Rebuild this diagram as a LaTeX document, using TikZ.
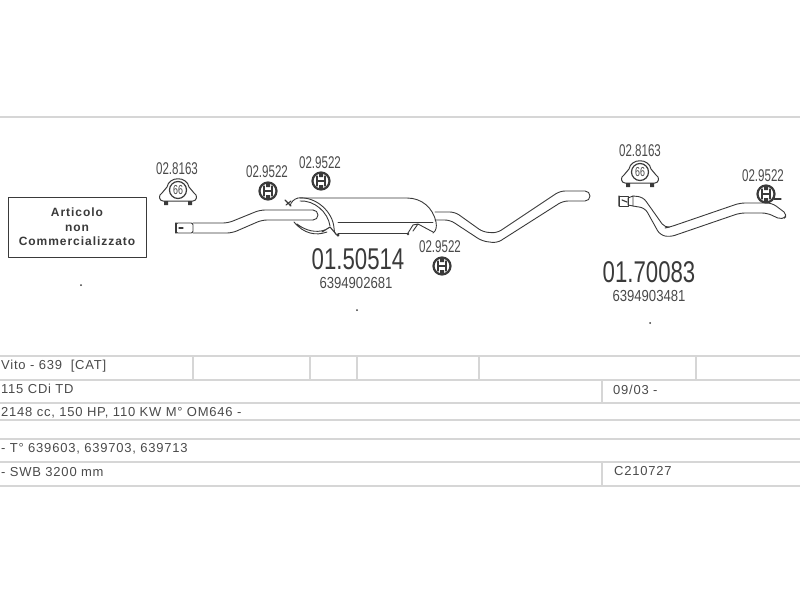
\documentclass[tikz,border=0pt]{standalone}
\usepackage{fontspec}
\setmainfont{Liberation Sans}
\newfontfamily\rowfont[LetterSpace=6]{Liberation Sans}
\newfontfamily\clampfont[FakeStretch=0.68]{Liberation Sans}
\newfontfamily\partfont[FakeStretch=0.74]{Liberation Sans}
\newfontfamily\oemfont[FakeStretch=0.82]{Liberation Sans}
\newfontfamily\boxfont[LetterSpace=8]{Liberation Sans Bold}
\definecolor{pipeline}{HTML}{3A3A3A}
\definecolor{rulegray}{HTML}{D6D6D6}
\definecolor{labelgray}{HTML}{4A4A4A}
\tikzset{
	pipe/.style={pipeline, line width=0.9pt, rounded corners=5pt},
	tablerule/.style={rulegray, line width=1.6pt},
	rowtext/.style={anchor=west, inner sep=0pt, text=labelgray, font=\rowfont\fontsize{13}{15}\selectfont},
	clampno/.style={inner sep=0pt, text=labelgray, font=\clampfont\fontsize{17}{17}\selectfont},
	partno/.style={inner sep=0pt, text=pipeline, font=\partfont\fontsize{30}{30}\selectfont},
	oemno/.style={inner sep=0pt, text=labelgray, font=\oemfont\fontsize{16}{16}\selectfont},
	speck/.style={circle, fill=pipeline, inner sep=0pt, minimum size=2pt},
	clampbig/.pic={
		\draw[pipeline, line width=1pt, fill=white] (-15,11) .. controls (-19,11) and (-20,5) .. (-16,3) -- (-11,-3) .. controls (-9,-14) and (9,-14) .. (11,-3) -- (16,3) .. controls (20,5) and (19,11) .. (15,11) -- cycle;
		\draw[pipeline, line width=1.2pt, fill=white] (0,0) circle (8.5);
		\fill[pipeline] (-14,11) rectangle (-10,15) (10,11) rectangle (14,15);
		\node[inner sep=0pt, text=labelgray, font=\clampfont\fontsize{13}{13}\selectfont] (-label) at (0,0) {66};
	},
	clampround/.pic={
		\draw[pipeline, line width=2.2pt, fill=white] (0,0) circle (8.5);
		\draw[pipeline, line width=1.3pt] (-4,-5) -- (-4,5) (4,-5) -- (4,5) (-4,0) -- (4,0);
		\fill[pipeline] (-2,-8) rectangle (2,-4) (-2,4) rectangle (2,8);
	}
}
\begin{document}
\begin{tikzpicture}[x=1pt, y=-1pt, line join=round, line cap=round]
	\useasboundingbox (0,0) rectangle (800,600);
	% table rules
	\draw[tablerule] (0,117) -- (800,117);
	\foreach \yy in {356,380,403,420,439,462,486}
		\draw[tablerule] (0,\yy) -- (800,\yy);
	\foreach \xx in {193,310,357,479,696}
		\draw[tablerule] (\xx,356) -- (\xx,380);
	\draw[tablerule] (602,380) -- (602,403) (602,462) -- (602,486);
	% table text
	\node[rowtext] (vito) at (1,366.5) {Vito - 639\ \ [CAT]};
	\node[rowtext] (engine) at (1,388.5) {115 CDi TD};
	\node[rowtext] (power) at (1,412.5) {2148 cc, 150 HP, 110 KW M° OM646 -};
	\node[rowtext] (types) at (1,448.5) {-\ T° 639603, 639703, 639713};
	\node[rowtext] (wheelbase) at (1,472.5) {-\ SWB 3200 mm};
	\node[rowtext] (years) at (613,389.5) {09/03 -};
	\node[rowtext] (code) at (614,471.5) {C210727};
	% box on the left
	\node[draw=pipeline, line width=0.8pt, minimum width=138pt, minimum height=60pt, inner sep=0pt, align=center, text=pipeline, font=\boxfont\fontsize{12}{14.5}\selectfont] (notsold) at (77,227) {Articolo\\non\\Commercializzato};
	% front pipe
	\draw[pipe] (193,223) -- (228,223) -- (260,210) -- (313,210);
	\draw[pipe] (193,233) -- (232,233) -- (262,220) -- (313,220);
	\draw[pipeline, line width=0.9pt] (313,210) arc (-90:90:5);
	\draw[pipeline, line width=0.9pt, rounded corners=2pt] (193,223) -- (176,223) -- (176,233) -- (193,233) -- cycle;
	\draw[pipeline, line width=1.2pt] (176,223) -- (176,233) (179,228) -- (183,228);
	% muffler
	\draw[pipeline, line width=0.9pt] (300,198) -- (407,198) .. controls (422,198) and (433,208) .. (436,222) .. controls (437,227) and (436,231) .. (433,233);
	\draw[pipeline, line width=0.9pt] (338,233) -- (408,233) (338,222) -- (433,222);
	\draw[pipeline, line width=0.9pt] (298,198) .. controls (316,196) and (333,212) .. (334,228) .. controls (334,231) and (334,233) .. (338,236);
	\draw[pipeline, line width=0.9pt] (300,201) .. controls (314,200) and (328,212) .. (330,226);
	\draw[pipeline, line width=0.9pt] (298,198) .. controls (294,199) and (291,202) .. (290,206) (294,222) .. controls (304,234) and (316,236) .. (327,232) (297,224) .. controls (306,231) and (316,233) .. (325,230);
	\draw[pipeline, line width=1.1pt] (285,200) -- (291,206) (291,201) -- (286,205) (322,232) -- (330,227) -- (336,234);
	\fill[pipeline] (338,235) circle (1.6);
	\draw[pipeline, line width=0.9pt] (408,233) -- (413,225) -- (418,224) -- (433,232) (413,231) -- (418,224);
	\fill[pipeline] (408,234) circle (1.3);
	% tail of the muffler
	\draw[pipe] (435,212) -- (455,212) -- (483,232) -- (497,233) -- (560,191) -- (590,191) -- (590,201) -- (563,201) -- (497,243) -- (482,241) -- (450,220) -- (435,220);
	% rear pipe
	\draw[pipe] (633,196) -- (643,197) -- (665,228) -- (670,227) -- (740,203) -- (772,203) -- (788,215) -- (782,220) -- (767,213) -- (740,213) -- (670,237) -- (660,235) -- (645,208) -- (633,206);
	\draw[pipeline, line width=0.9pt] (633,196) -- (633,206) -- (628,205) -- (628,198) -- cycle;
	\draw[pipeline, line width=0.9pt] (619,196) rectangle (628,206);
	\draw[pipeline, line width=1.2pt] (619,196) -- (619,206) (622,200) -- (627,202);
	% clamps
	\pic (clampa) at (178,190) {clampbig};
	\pic (clampb) at (640,172) {clampbig};
	\pic (clampc) at (268,191) {clampround};
	\pic (clampd) at (321,181) {clampround};
	\pic (clampe) at (442,266) {clampround};
	\pic (clampf) at (766,194) {clampround};
	\draw[pipeline, line width=1.2pt] (774,199) -- (781,199);
	% numbers
	\node[clampno] (cnoa) at (177,169) {02.8163};
	\node[clampno] (cnob) at (267,172) {02.9522};
	\node[clampno] (cnoc) at (320,163) {02.9522};
	\node[clampno] (cnod) at (440,247) {02.9522};
	\node[clampno] (cnoe) at (640,151) {02.8163};
	\node[clampno] (cnof) at (763,176) {02.9522};
	\node[partno] (parta) at (358,259) {01.50514};
	\node[partno] (partb) at (649,272) {01.70083};
	\node[oemno] (oema) at (356,283) {6394902681};
	\node[oemno] (oemb) at (649,296) {6394903481};
	\node[speck] (specka) at (81,285) {};
	\node[speck] (speckb) at (357,310) {};
	\node[speck] (speckc) at (650,323) {};
\end{tikzpicture}
\end{document}
